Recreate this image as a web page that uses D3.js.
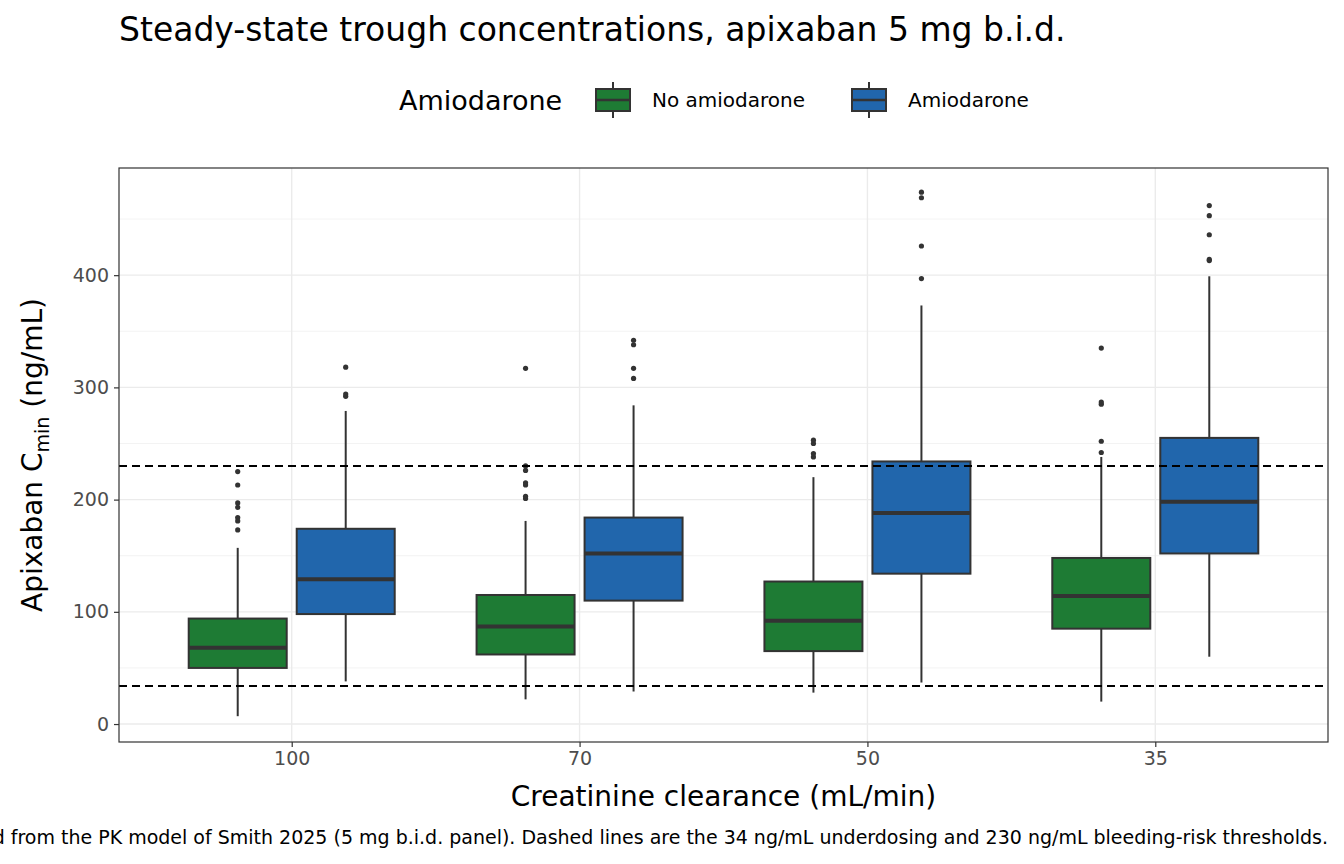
<!DOCTYPE html>
<html><head><meta charset="utf-8">
<script src="https://cdn.jsdelivr.net/npm/d3@7"></script>
<style>body{margin:0;background:#fff;font-family:"DejaVu Sans",sans-serif;}</style>
</head><body><svg id="chart" width="1344" height="864"></svg>
<script>
// categories and groups
const clearances = ["100", "70", "50", "35"];
const groups = ["No amiodarone", "Amiodarone"];
const groupColors = ["#1e7b34", "#2166ac"];
// per box: [low whisker, q1, median, q3, high whisker], clearance-major, group-minor
const boxStats = [
  [7, 50, 68, 94, 157], [38, 98, 129, 174, 279],
  [22, 62, 87, 115, 181], [29, 110, 152, 184, 284],
  [28, 65, 92, 127, 220], [37, 134, 188, 234, 373],
  [20, 85, 114, 148, 238], [60, 152, 198, 255, 399]
];
const outliers = [
  [225, 213, 197, 193, 184, 181, 173], [292, 294, 318],
  [201, 203, 213, 215, 226, 230, 317], [308, 317, 338, 342],
  [238, 241, 250, 253], [397, 426, 469, 474],
  [242, 252, 285, 287, 335], [413, 414, 436, 453, 462]
];
const thresholds = [34, 230];
const yTicks = [0, 100, 200, 300, 400];

const svg = d3.select("#chart");
const m = {left: 119, right: 1328, top: 168, bottom: 742};

const x = d3.scalePoint().domain(clearances).range([m.left, m.right]).padding(0.6);
const xg = d3.scaleBand().domain(groups).range([-108, 108]);
const y = d3.scaleLinear().domain([-16, 495.5]).range([m.bottom, m.top]);

// grid
const minor = d3.range(50, 500, 100);
svg.selectAll(".mg").data(minor).join("line")
  .attr("x1", m.left).attr("x2", m.right).attr("y1", d => y(d)).attr("y2", d => y(d))
  .attr("stroke", "#ebebeb").attr("stroke-width", 0.6);
svg.selectAll(".yg").data(yTicks).join("line")
  .attr("x1", m.left).attr("x2", m.right).attr("y1", d => y(d)).attr("y2", d => y(d))
  .attr("stroke", "#ebebeb").attr("stroke-width", 1.4);
svg.selectAll(".xg").data(clearances).join("line")
  .attr("x1", d => x(d)).attr("x2", d => x(d))
  .attr("y1", m.top).attr("y2", m.bottom).attr("stroke", "#ebebeb").attr("stroke-width", 1.4);

// boxes
const boxW = 98;
boxStats.forEach((s, i) => {
  const c = clearances[Math.floor(i / 2)], g = groups[i % 2];
  const cx = x(c) + xg(g) + xg.bandwidth() / 2;
  const gEl = svg.append("g");
  gEl.append("line").attr("x1", cx).attr("x2", cx).attr("y1", y(s[0])).attr("y2", y(s[1]))
    .attr("stroke", "#333").attr("stroke-width", 2);
  gEl.append("line").attr("x1", cx).attr("x2", cx).attr("y1", y(s[3])).attr("y2", y(s[4]))
    .attr("stroke", "#333").attr("stroke-width", 2);
  gEl.append("rect").attr("x", cx - boxW / 2).attr("width", boxW)
    .attr("y", y(s[3])).attr("height", y(s[1]) - y(s[3]))
    .attr("fill", groupColors[i % 2]).attr("stroke", "#333").attr("stroke-width", 2);
  gEl.append("line").attr("x1", cx - boxW / 2).attr("x2", cx + boxW / 2)
    .attr("y1", y(s[2])).attr("y2", y(s[2])).attr("stroke", "#333").attr("stroke-width", 4);
  gEl.selectAll("circle").data(outliers[i]).join("circle")
    .attr("cx", cx).attr("cy", d => y(d)).attr("r", 2.6).attr("fill", "#333");
});

// thresholds
svg.selectAll(".th").data(thresholds).join("line")
  .attr("x1", m.left).attr("x2", m.right).attr("y1", d => y(d)).attr("y2", d => y(d))
  .attr("stroke", "#000").attr("stroke-width", 2).attr("stroke-dasharray", "8,5");

// panel border
svg.append("rect").attr("x", m.left).attr("y", m.top).attr("width", m.right - m.left)
  .attr("height", m.bottom - m.top).attr("fill", "none").attr("stroke", "#333").attr("stroke-width", 1.2);

// axes
const yAxis = svg.append("g").attr("transform", `translate(${m.left},0)`)
  .call(d3.axisLeft(y).tickValues(yTicks).tickSize(5).tickPadding(5));
const xAxis = svg.append("g").attr("transform", `translate(0,${m.bottom})`)
  .call(d3.axisBottom(x).tickSize(5).tickPadding(5));
[yAxis, xAxis].forEach(a => {
  a.select(".domain").remove();
  a.selectAll("line").attr("stroke", "#333").attr("stroke-width", 1.2);
  a.selectAll("text").attr("fill", "#4d4d4d").attr("font-size", 19)
    .attr("font-family", "DejaVu Sans");
});

// titles
svg.append("text").attr("x", 119).attr("y", 41).attr("font-size", 33).attr("fill", "#000")
  .text("Steady-state trough concentrations, apixaban 5 mg b.i.d.");
svg.append("text").attr("x", (m.left + m.right) / 2).attr("y", 806).attr("text-anchor", "middle")
  .attr("font-size", 28).text("Creatinine clearance (mL/min)");
const yl = svg.append("text").attr("transform", `translate(42,${(m.top + m.bottom) / 2}) rotate(-90)`)
  .attr("text-anchor", "middle").attr("font-size", 28);
yl.append("tspan").text("Apixaban C");
yl.append("tspan").attr("font-size", 19).attr("dy", 7).text("min");
yl.append("tspan").attr("dy", -7).text(" (ng/mL)");
svg.append("text").attr("x", 1328).attr("y", 844).attr("text-anchor", "end").attr("font-size", 19)
  .text("Simulated from the PK model of Smith 2025 (5 mg b.i.d. panel). Dashed lines are the 34 ng/mL underdosing and 230 ng/mL bleeding-risk thresholds.");

// legend
const lg = svg.append("g");
lg.append("text").attr("x", 399).attr("y", 110).attr("font-size", 27).text("Amiodarone");
const keyX = [596, 852];
groups.forEach((g, i) => {
  const kx = keyX[i] + 17;
  lg.append("line").attr("x1", kx).attr("x2", kx).attr("y1", 82).attr("y2", 118)
    .attr("stroke", "#333").attr("stroke-width", 2);
  lg.append("rect").attr("x", keyX[i]).attr("y", 89).attr("width", 34).attr("height", 22)
    .attr("fill", groupColors[i]).attr("stroke", "#333").attr("stroke-width", 2);
  lg.append("line").attr("x1", keyX[i]).attr("x2", keyX[i] + 34).attr("y1", 100).attr("y2", 100)
    .attr("stroke", "#333").attr("stroke-width", 2.5);
  lg.append("text").attr("x", keyX[i] + 56).attr("y", 107).attr("font-size", 20).text(g);
});
</script></body></html>
